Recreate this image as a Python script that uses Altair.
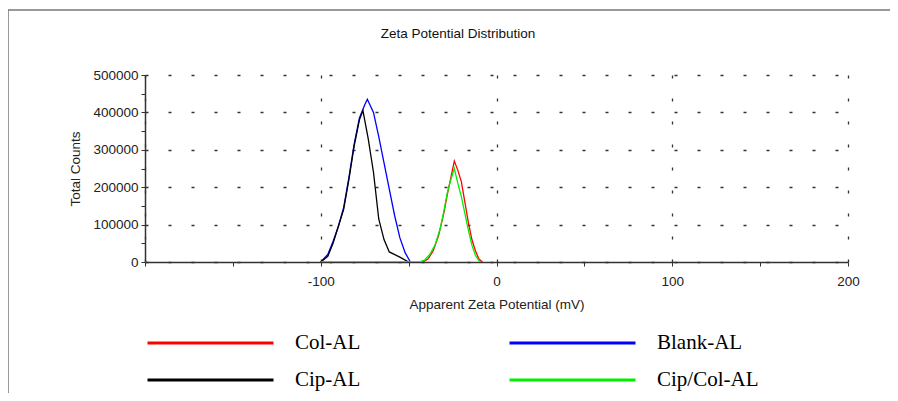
import altair as alt
import pandas as pd

# ---- data ----
series_names = ["Col-AL", "Blank-AL", "Cip-AL", "Cip/Col-AL"]
series_colors = ["#ff0000", "#0000ff", "#000000", "#00ee00"]

col_x = [-42, -39, -36, -33, -30, -28, -26, -24, -22, -20, -18, -16, -14, -12, -10, -8]
col_y = [0, 8000, 30000, 70000, 130000, 180000, 225000, 270000, 245000, 215000, 160000, 105000, 60000, 30000, 8000, 0]

blank_x = [-100, -96, -93, -90, -87, -84, -81, -78, -75, -73.5, -70, -67, -64, -61, -58, -55, -52, -49]
blank_y = [0, 20000, 55000, 95000, 145000, 225000, 315000, 385000, 420000, 435000, 400000, 335000, 265000, 195000, 125000, 65000, 25000, 0]

cip_x = [-100, -96, -93, -90, -87, -84, -81, -78, -76, -73, -70, -67, -64, -61, -55, -50]
cip_y = [0, 15000, 50000, 95000, 140000, 220000, 310000, 380000, 405000, 330000, 240000, 115000, 60000, 27000, 13000, 0]

cipcol_x = [-100, -44, -41, -38, -35, -32, -30, -28, -26, -24, -22, -20, -18, -16, -14, -12, -10, -9]
cipcol_y = [0, 0, 5000, 20000, 45000, 90000, 135000, 185000, 220000, 250000, 210000, 175000, 130000, 85000, 45000, 18000, 4000, 0]

x_ticks = [-200, -150, -100, -50, 0, 50, 100, 150, 200]
y_ticks = [0, 50000, 100000, 150000, 200000, 250000, 300000, 350000, 400000, 450000, 500000]

chart_title = ["Zeta Potential Distribution"]

rows = []
for name, xs, ys in [("Col-AL", col_x, col_y), ("Blank-AL", blank_x, blank_y),
                     ("Cip-AL", cip_x, cip_y), ("Cip/Col-AL", cipcol_x, cipcol_y)]:
    for xv, yv in zip(xs, ys):
        rows.append({"series": name, "zeta": xv, "counts": yv})
df = pd.DataFrame(rows)

W, H = 703, 187
FS = 13.5

lines = alt.Chart(df).mark_line(strokeWidth=1.3, clip=True).encode(
    x=alt.X("zeta:Q", scale=alt.Scale(domain=[-200, 200], nice=False),
            axis=alt.Axis(values=x_ticks, title="Apparent Zeta Potential (mV)", labelFlush=False,
                          labelExpr="(datum.value % 100 === 0 && datum.value !== -200) ? toString(datum.value) : ''",
                          gridOpacity={"condition": {"test": "datum.value % 100 === 0", "value": 1}, "value": 0},
                          labelPadding=8, titlePadding=10)),
    y=alt.Y("counts:Q", scale=alt.Scale(domain=[0, 500000], nice=False),
            axis=alt.Axis(values=y_ticks, title="Total Counts", format="d",
                          labelExpr="(datum.value % 100000 === 0) ? datum.label : ''",
                          gridOpacity={"condition": {"test": "datum.value % 100000 === 0", "value": 1}, "value": 0},
                          labelPadding=3, titlePadding=10)),
    color=alt.Color("series:N", scale=alt.Scale(domain=series_names, range=series_colors),
                    legend=alt.Legend(title=None, orient="none", legendX=1, legendY=256,
                                      direction="horizontal", columns=2, columnPadding=147,
                                      rowPadding=13, clipHeight=24,
                                      symbolType="stroke", symbolSize=15876, symbolStrokeWidth=3,
                                      labelFont="Liberation Serif", labelFontSize=21,
                                      labelColor="#000", labelOffset=20)),
)

one = pd.DataFrame({"k": [0]})
frame_left = alt.Chart(one).mark_rule(stroke="#777", strokeWidth=1.5).encode(
    x=alt.value(-137), y=alt.value(-65), y2=alt.value(400)
)
frame_top = alt.Chart(one).mark_rule(stroke="#777", strokeWidth=1.5).encode(
    x=alt.value(-137), x2=alt.value(900), y=alt.value(-65)
)
title = alt.Chart(pd.DataFrame({"t": chart_title})).mark_text(
    font="Liberation Sans", fontSize=FS, color="#111", align="center", baseline="middle"
).encode(text="t:N", x=alt.value(313), y=alt.value(-41))

chart = alt.layer(frame_left, frame_top, title, lines).properties(
    width=W, height=H,
    autosize=alt.AutoSizeParams(type="none"),
    padding={"left": 137, "top": 67, "right": 42, "bottom": 131},
).configure_view(stroke=None).configure_axis(
    labelFont="Liberation Sans", labelFontSize=FS, labelColor="#222",
    titleFont="Liberation Sans", titleFontSize=FS, titleFontWeight="normal", titleColor="#222",
    domainColor="#333", domainWidth=1.5, tickColor="#333", tickSize=4,
    gridColor="#333", gridDash=[3, 20], gridWidth=1.3,
)

chart.save("out.html", embed_options={"renderer": "svg", "actions": False})
